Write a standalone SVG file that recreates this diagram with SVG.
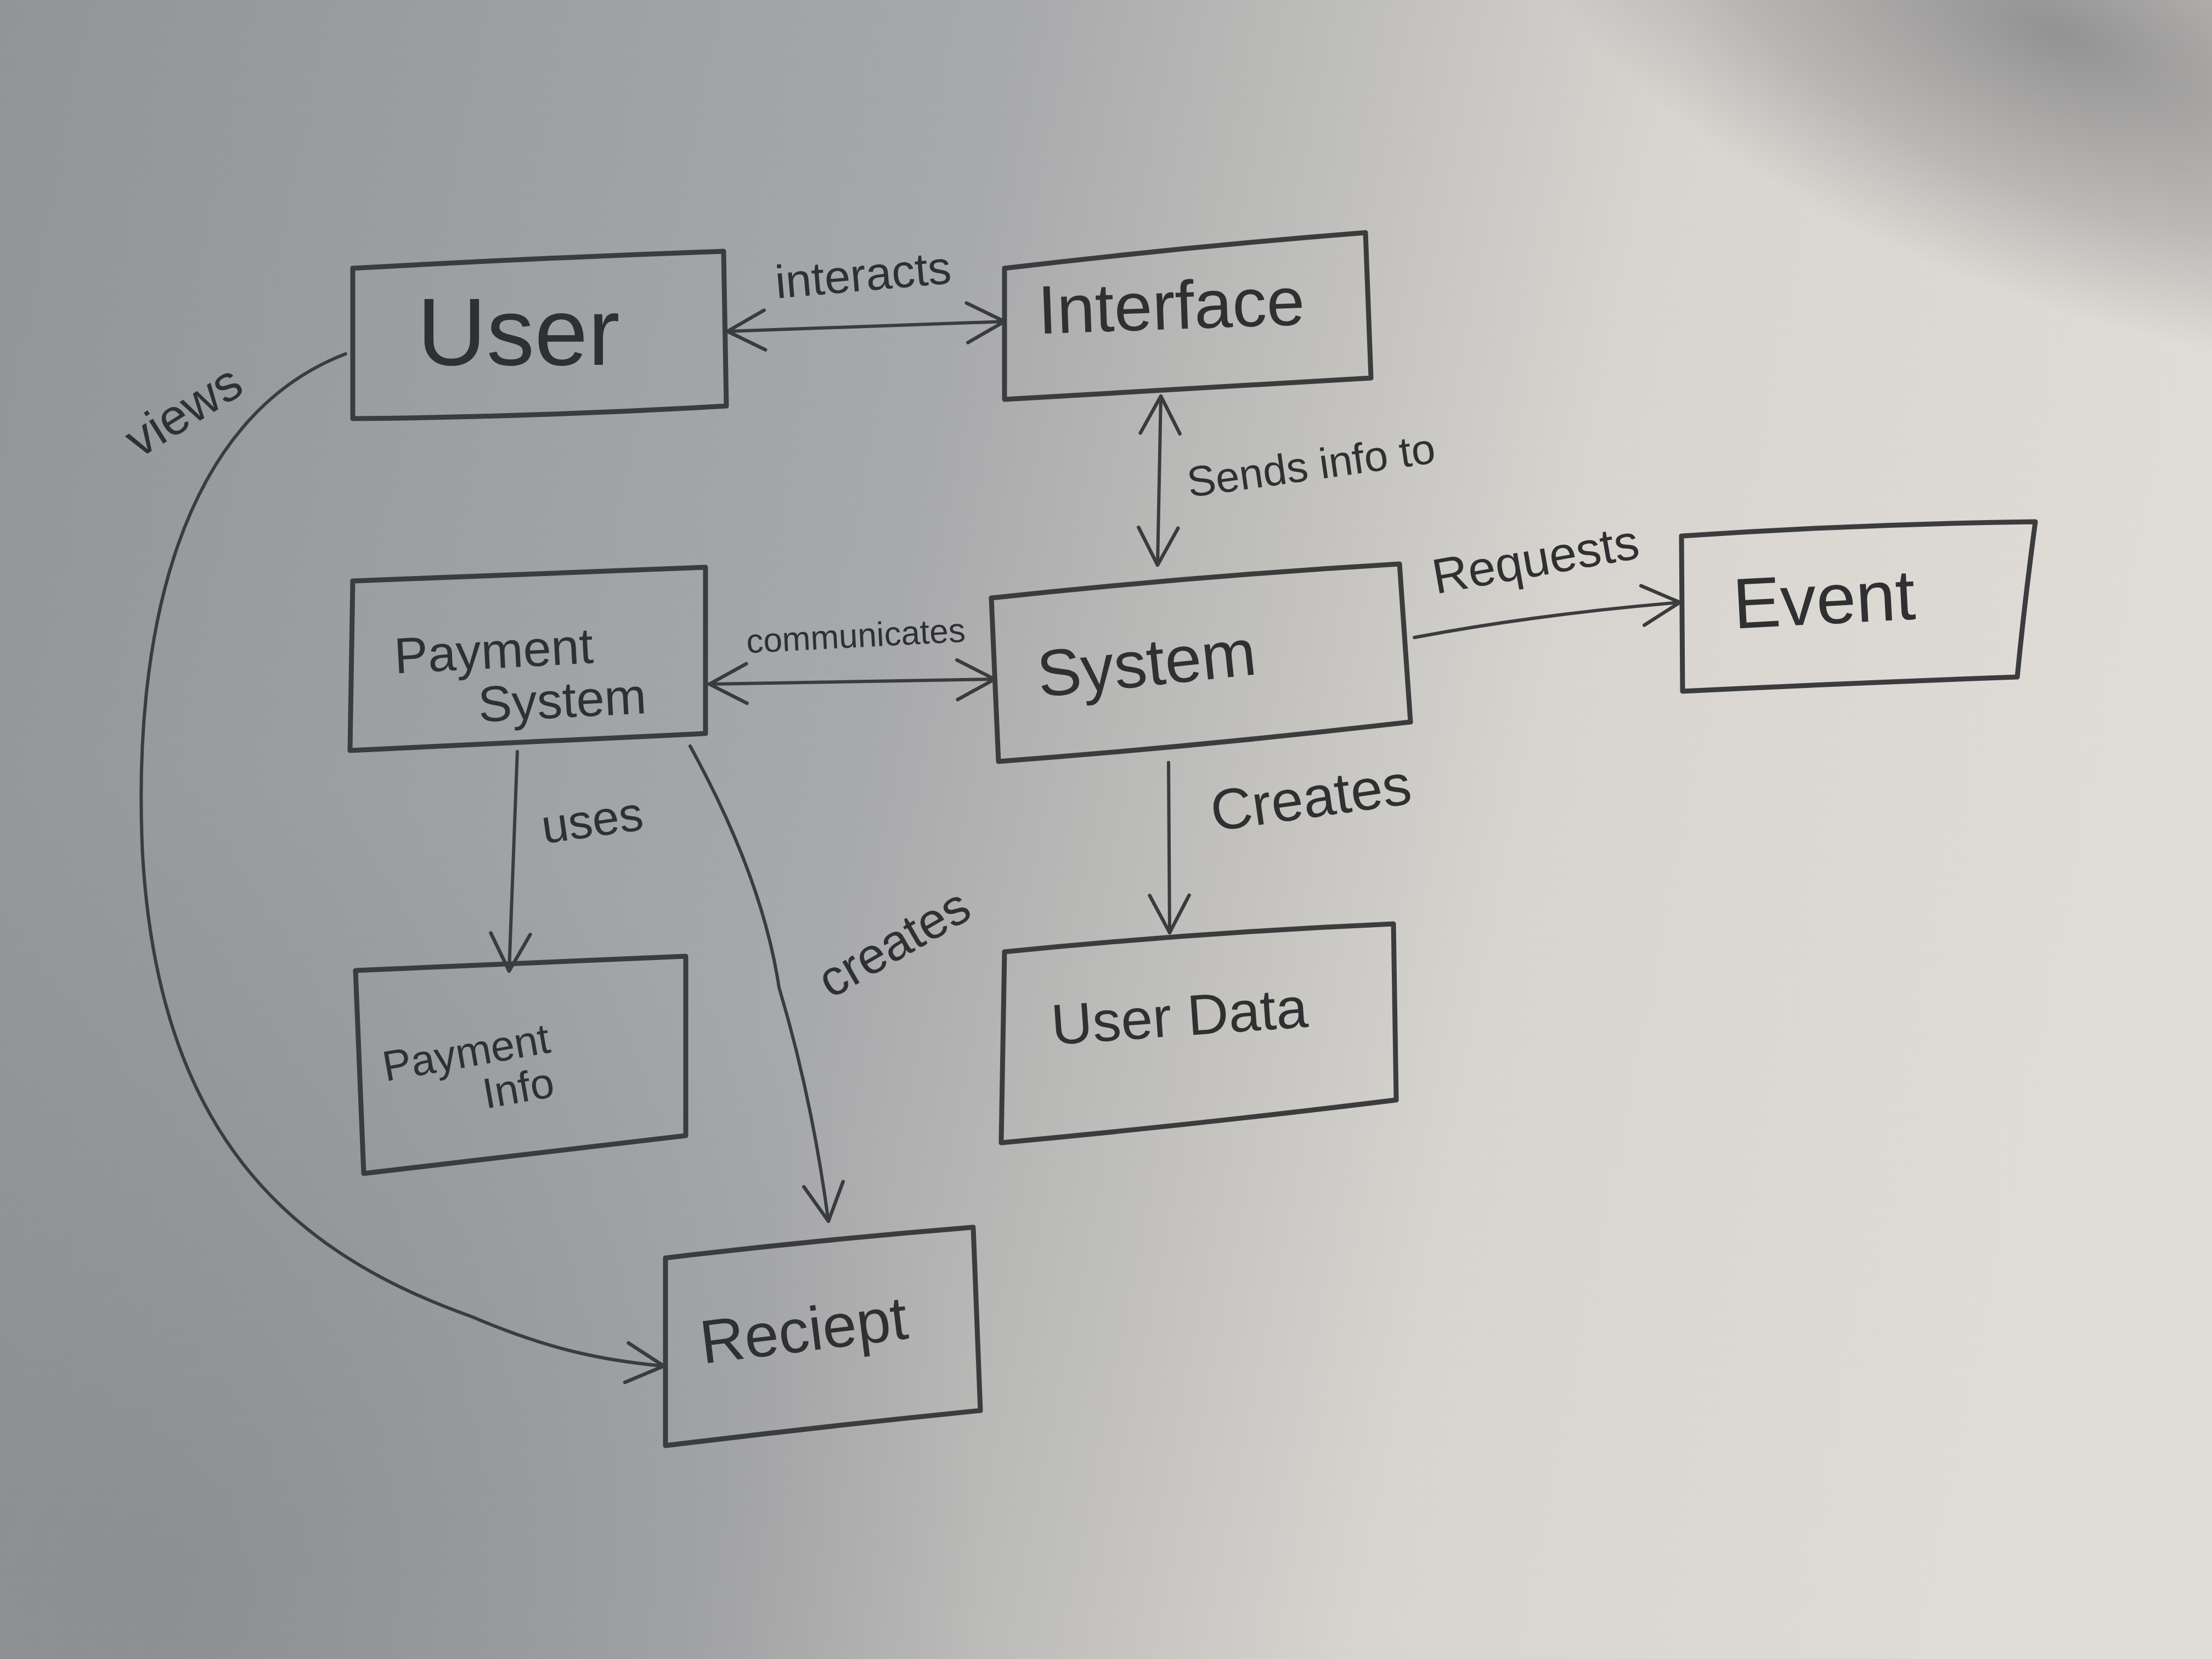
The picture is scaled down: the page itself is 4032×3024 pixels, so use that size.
<svg xmlns="http://www.w3.org/2000/svg" width="4032" height="3024" viewBox="0 0 4032 3024">
<defs>
<linearGradient id="paper" x1="0" y1="0" x2="1" y2="0.15">
<stop offset="0" stop-color="#939496"/>
<stop offset="0.45" stop-color="#a8a9ab"/>
<stop offset="0.62" stop-color="#c2c1be"/>
<stop offset="0.75" stop-color="#d8d5d0"/>
<stop offset="1" stop-color="#dfdcd6"/>
</linearGradient>
<radialGradient id="shadeTop" cx="0.5" cy="0.5" r="0.5">
<stop offset="0" stop-color="#747477" stop-opacity="0.7"/>
<stop offset="0.6" stop-color="#7a7a7d" stop-opacity="0.35"/>
<stop offset="1" stop-color="#7a7a7d" stop-opacity="0"/>
</radialGradient>
<radialGradient id="shadeBL" cx="300" cy="2900" r="1500" gradientUnits="userSpaceOnUse">
<stop offset="0" stop-color="#7e7f81" stop-opacity="0.5"/>
<stop offset="1" stop-color="#7e7f81" stop-opacity="0"/>
</radialGradient>
<marker id="arr" viewBox="0 0 20 20" refX="19" refY="10" markerWidth="80" markerHeight="80" markerUnits="userSpaceOnUse" orient="auto-start-reverse">
<path d="M2,1 L19,10 L2,19" fill="none" stroke="#3a3b3d" stroke-width="1.6" stroke-linecap="round" stroke-linejoin="round"/>
</marker>
<style>
.box{fill:none;stroke:#3b3c3e;stroke-width:9;stroke-linejoin:round;stroke-linecap:round}
.edge{fill:none;stroke:#3b3c3e;stroke-width:6;stroke-linecap:round}
.lbl{font-family:"Liberation Sans",sans-serif;fill:#2f3032}
.name{font-family:"Liberation Sans",sans-serif;fill:#2f3032}
</style>
</defs>
<rect x="0" y="0" width="4032" height="3024" fill="url(#paper)"/>
<ellipse cx="3750" cy="60" rx="1100" ry="480" transform="rotate(22 3750 60)" fill="url(#shadeTop)"/>
<rect x="0" y="0" width="4032" height="3024" fill="url(#shadeBL)"/>

<g id="connectors">
<path class="edge" d="M1326,604 L1831,586" marker-start="url(#arr)" marker-end="url(#arr)"/>
<text class="lbl" x="1574" y="530" font-size="85" text-anchor="middle" transform="rotate(-5 1574 510)">interacts</text>
<path class="edge" d="M2116,722 L2110,1030" marker-start="url(#arr)" marker-end="url(#arr)"/>
<text class="lbl" x="2390" y="875" font-size="78" text-anchor="middle" transform="rotate(-8 2390 850)">Sends info to</text>
<path class="edge" d="M2578,1162 Q2800,1120 3062,1098" marker-end="url(#arr)"/>
<text class="lbl" x="2800" y="1050" font-size="90" text-anchor="middle" transform="rotate(-10 2800 1025)">Requests</text>
<path class="edge" d="M1293,1247 L1813,1238" marker-start="url(#arr)" marker-end="url(#arr)"/>
<text class="lbl" x="1560" y="1180" font-size="62" text-anchor="middle" transform="rotate(-3 1560 1160)">communicates</text>
<path class="edge" d="M2130,1390 L2132,1700" marker-end="url(#arr)"/>
<text class="lbl" x="2390" y="1490" font-size="105" text-anchor="middle" transform="rotate(-8 2390 1460)">Creates</text>
<path class="edge" d="M943,1370 L928,1770" marker-end="url(#arr)"/>
<text class="lbl" x="1080" y="1525" font-size="88" text-anchor="middle" transform="rotate(-8 1080 1500)">uses</text>
<path class="edge" d="M1258,1360 Q1390,1600 1420,1800 Q1480,2000 1510,2226" marker-end="url(#arr)"/>
<text class="lbl" x="1630" y="1750" font-size="92" text-anchor="middle" transform="rotate(-30 1630 1720)">creates</text>
<path class="edge" d="M630,645 C330,760 240,1150 260,1560 C290,2060 520,2280 860,2400 C1000,2460 1100,2480 1210,2490" marker-end="url(#arr)"/>
<text class="lbl" x="335" y="780" font-size="92" text-anchor="middle" transform="rotate(-32 335 750)">views</text>
</g>

<g id="node-user">
<path class="box" d="M643,489 Q980,470 1319,458 L1324,740 Q980,760 643,763 Z"/>
<text class="name" x="945" y="665" font-size="175" text-anchor="middle">User</text>
</g>
<g id="node-interface">
<path class="box" d="M1831,489 Q2160,450 2489,424 L2499,689 Q2160,710 1831,728 Z"/>
<text class="name" x="2135" y="600" font-size="125" text-anchor="middle" transform="rotate(-2 2135 560)">Interface</text>
</g>
<g id="node-payment-system">
<path class="box" d="M643,1059 L1286,1034 L1286,1337 L638,1368 Z"/>
<text class="name" x="900" y="1218" font-size="92" text-anchor="middle" transform="rotate(-3 900 1190)">Payment</text>
<text class="name" x="1025" y="1308" font-size="92" text-anchor="middle" transform="rotate(-3 1025 1280)">System</text>
</g>
<g id="node-system">
<path class="box" d="M1807,1090 Q2180,1050 2551,1028 L2571,1316 Q2190,1360 1820,1388 Z"/>
<text class="name" x="2090" y="1250" font-size="120" text-anchor="middle" transform="rotate(-6 2090 1210)">System</text>
</g>
<g id="node-event">
<path class="box" d="M3065,977 Q3390,955 3710,951 Q3690,1100 3677,1234 Q3370,1245 3067,1260 Z"/>
<text class="name" x="3325" y="1137" font-size="130" text-anchor="middle" transform="rotate(-3 3325 1095)">Event</text>
</g>
<g id="node-payment-info">
<path class="box" d="M648,1769 L1250,1743 L1250,2070 L663,2139 Z"/>
<text class="name" x="850" y="1945" font-size="78" text-anchor="middle" transform="rotate(-10 850 1920)">Payment</text>
<text class="name" x="945" y="2010" font-size="78" text-anchor="middle" transform="rotate(-10 945 1985)">Info</text>
</g>
<g id="node-user-data">
<path class="box" d="M1831,1735 Q2180,1700 2540,1684 L2545,2005 Q2180,2050 1825,2083 Z"/>
<text class="name" x="2150" y="1888" font-size="104" text-anchor="middle" transform="rotate(-4 2150 1855)">User Data</text>
</g>
<g id="node-reciept">
<path class="box" d="M1213,2293 Q1490,2260 1774,2237 L1787,2571 Q1500,2600 1213,2635 Z"/>
<text class="name" x="1465" y="2463" font-size="112" text-anchor="middle" transform="rotate(-7 1465 2425)">Reciept</text>
</g>
</svg>
